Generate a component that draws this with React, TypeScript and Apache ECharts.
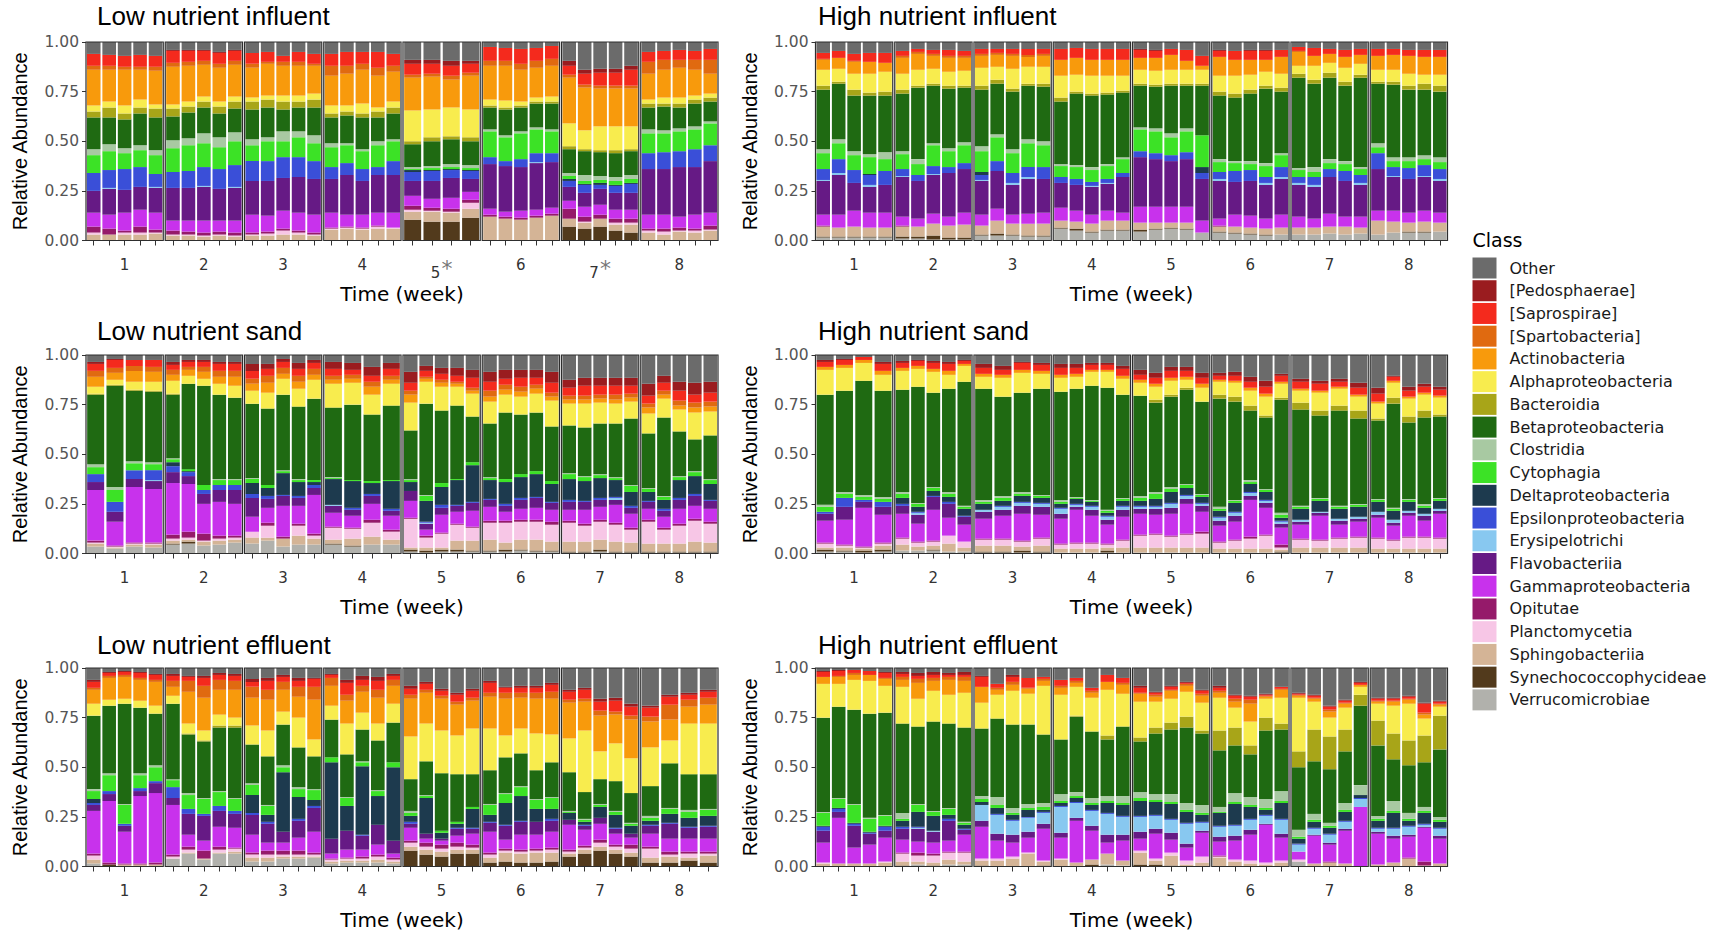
import React, { useEffect, useRef } from "react";
import * as echarts from "echarts";

// Classes in stacking order, bottom to top (legend shows them reversed)
const classes = [
  "Verrucomicrobiae", "Synechococcophycideae", "Sphingobacteriia", "Planctomycetia", "Opitutae",
  "Gammaproteobacteria", "Flavobacteriia", "Erysipelotrichi", "Epsilonproteobacteria", "Deltaproteobacteria",
  "Cytophagia", "Clostridia", "Betaproteobacteria", "Bacteroidia", "Alphaproteobacteria",
  "Actinobacteria", "[Spartobacteria]", "[Saprospirae]", "[Pedosphaerae]", "Other",
];
const classColors = [
  "#B1B1AC", "#523A1C", "#D4B496", "#F7C6E6", "#951A6A",
  "#C832EC", "#661A85", "#88C8F0", "#3A4FD8", "#1D3A4E",
  "#3CE226", "#A8C9A2", "#1F6A12", "#A8A518", "#F8EC4E",
  "#F89A0C", "#E06A10", "#F42A1D", "#9A1C1F", "#6B6B6B",
];

const weekLabels = ["1", "2", "3", "4", "5", "6", "7", "8"];
const lowInfluentWeekLabels = ["1", "2", "3", "4", "5*", "6", "7*", "8"];
const yTicks = [0, 0.25, 0.5, 0.75, 1];

// Each panel: 8 weeks; each week: samples; each sample: abundances in stacking order
const lowInfluent = [
  [
    [0,0,.03,.01,.03,.07,.11,0,.09,0,.09,.03,.16,.03,.03,.18,.02,.06,0,.06],
    [0,0,.03,0,.03,.07,.13,.005,.09,0,.095,.035,.135,.05,.03,.16,.02,.055,0,.065],
    [0,0,.03,.01,.01,.09,.115,0,.105,0,.08,.025,.145,.03,.04,.18,.015,.055,0,.07],
    [0,0,.03,.01,.03,.085,.115,0,.10,0,.085,.025,.16,.03,.04,.15,.015,.06,0,.065],
    [0,0,.035,.005,.015,.085,.125,.005,.065,0,.095,.025,.165,.045,.02,.17,.02,.055,0,.07],
  ],
  [
    [0,0,.025,.005,.02,.05,.165,0,.08,0,.12,.04,.12,.04,.02,.19,.02,.06,.005,.04],
    [0,0,.025,.005,.015,.055,.165,0,.085,0,.13,.035,.13,.03,.025,.18,.02,.055,.005,.04],
    [0,0,.02,.005,.015,.06,.17,.005,.095,0,.12,.05,.13,.03,.025,.16,.02,.05,.005,.04],
    [0,0,.025,.005,.015,.055,.16,0,.10,0,.11,.05,.12,.035,.025,.17,.02,.055,.005,.05],
    [0,0,.02,.005,.015,.06,.165,.005,.11,0,.12,.045,.12,.035,.025,.16,.02,.05,.005,.04],
  ],
  [
    [0,0,.025,.005,.01,.09,.17,0,.10,0,.08,.03,.15,.04,.02,.15,.02,.055,0,.055],
    [0,0,.025,.01,.01,.08,.175,0,.10,0,.10,.02,.15,.04,.02,.16,.01,.05,0,.05],
    [0,0,.03,.02,.01,.09,.165,0,.105,0,.08,.05,.11,.04,.03,.15,.02,.03,0,.07],
    [0,0,.03,.01,.01,.09,.18,0,.10,0,.10,.03,.12,.03,.03,.15,.02,.05,0,.05],
    [0,0,.025,.005,.01,.09,.18,0,.09,0,.09,.04,.14,.04,.03,.14,.01,.05,0,.06],
  ],
  [
    [0,0,.055,.005,.005,.075,.17,0,.06,0,.10,.02,.13,.02,.04,.15,.05,.06,0,.06],
    [0,0,.06,.005,.005,.06,.20,0,.06,0,.09,.01,.14,.02,.03,.16,.04,.07,0,.05],
    [0,0,.055,.005,.005,.065,.17,0,.06,0,.09,.01,.16,.02,.05,.17,.03,.06,0,.05],
    [0,0,.06,.01,.005,.065,.19,0,.04,0,.11,.02,.12,.03,.02,.16,.04,.08,0,.05],
    [0,0,.06,.005,0,.075,.19,0,.07,0,.10,.01,.13,.03,.03,.15,.03,.06,0,.06],
  ],
  [
    [0,.105,.04,.01,.02,.05,.075,0,.045,.01,.005,.01,.115,.015,.155,.165,.015,.055,.02,.09],
    [0,.095,.05,.005,.015,.045,.09,0,.05,.005,.01,.01,.125,.02,.14,.165,.015,.05,.02,.09],
    [0,.095,.045,.005,.015,.055,.10,0,.04,.005,.01,.015,.125,.015,.145,.14,.02,.05,.025,.095],
    [0,.115,.045,.03,.015,.04,.065,0,.04,.005,.01,.015,.12,.02,.14,.17,.015,.045,.015,.095],
  ],
  [
    [0,0,.12,0,.01,.03,.225,0,.035,0,.13,.01,.11,.01,.03,.17,.025,.07,0,.025],
    [0,0,.11,0,.01,.025,.23,0,.025,0,.12,.01,.13,.01,.035,.175,.025,.065,0,.03],
    [0,0,.105,0,.01,.035,.22,0,.04,0,.13,.01,.12,.01,.02,.16,.03,.075,0,.035],
    [0,0,.115,0,.01,.03,.235,.005,.045,0,.12,.01,.12,.01,.02,.15,.035,.065,0,.03],
    [0,0,.125,0,.01,.03,.23,0,.045,0,.11,.01,.13,.01,.025,.155,.035,.065,0,.02],
  ],
  [
    [0,.07,.04,0,.05,.04,.07,0,.03,.01,.015,.015,.12,.015,.115,.23,.015,.045,.025,.095],
    [0,.06,.03,.005,.025,.05,.07,0,.04,.005,.015,.03,.12,.01,.095,.215,.015,.055,.02,.14],
    [0,.07,.04,0,.02,.05,.08,0,.02,.01,.015,.02,.12,.01,.12,.19,.015,.065,.02,.135],
    [0,.05,.03,.01,.02,.045,.085,0,.035,.005,.02,.02,.12,.015,.12,.19,.015,.065,.02,.135],
    [0,.04,.04,.01,.02,.045,.085,0,.045,.005,.02,.02,.12,.01,.115,.19,.015,.08,.02,.12],
  ],
  [
    [0,0,.04,.01,.01,.07,.23,0,.08,0,.10,.02,.11,.02,.02,.13,.06,.05,0,.05],
    [0,0,.03,.015,.015,.07,.23,0,.085,0,.095,.015,.12,.015,.03,.14,.05,.045,0,.045],
    [0,0,.045,.005,.015,.055,.25,0,.08,0,.10,.015,.105,.02,.03,.15,.04,.05,0,.04],
    [0,0,.04,.01,.01,.07,.24,0,.09,0,.10,.015,.115,.02,.02,.13,.05,.045,0,.045],
    [0,0,.05,.005,.02,.065,.26,0,.08,0,.11,.01,.10,.02,.02,.10,.07,.055,0,.035],
  ],
];

const highInfluent = [
  [
    [.015,.005,.05,0,.005,.055,.17,.005,.055,0,.08,.02,.30,.02,.08,.05,.005,.03,0,.055],
    [.015,.005,.045,0,0,.065,.20,.01,.07,0,.08,.02,.28,.01,.065,.055,0,.035,0,.045],
    [.015,.005,.05,0,0,.08,.14,0,.065,0,.075,.02,.28,.03,.08,.06,.005,.035,0,.06],
    [.015,.005,.045,0,0,.075,.13,.01,.05,.005,.085,.015,.295,.015,.095,.06,0,.045,0,.055],
    [.015,.005,.045,0,0,.075,.14,0,.07,0,.06,.035,.285,.02,.10,.045,0,.05,0,.055],
  ],
  [
    [.01,.01,.05,0,.005,.045,.20,.005,.035,0,.075,.015,.29,.02,.08,.08,.01,.025,0,.045],
    [.01,.01,.05,0,0,.04,.19,0,.03,0,.055,.025,.36,.01,.08,.08,.01,.015,0,.035],
    [.005,.02,.06,0,0,.05,.195,.005,.04,0,.105,.01,.29,.01,.075,.065,.01,.02,0,.04],
    [.005,.01,.06,0,0,.045,.22,0,.03,0,.08,.015,.30,.015,.07,.07,.01,.03,0,.04],
    [.005,.01,.065,0,0,.06,.22,0,.03,0,.09,.015,.275,.01,.075,.065,.01,.025,0,.045],
  ],
  [
    [.025,.005,.045,0,0,.055,.17,.005,.025,.015,.105,.025,.285,.02,.09,.06,.01,.025,0,.035],
    [.025,.01,.065,0,0,.06,.19,0,.05,0,.12,.015,.255,.02,.065,.06,.01,.02,0,.035],
    [.025,.005,.055,0,0,.045,.15,.01,.05,0,.10,.02,.29,.015,.10,.065,.01,.025,0,.035],
    [.02,.005,.06,0,0,.05,.175,.01,.05,0,.12,.02,.27,.01,.085,.05,.01,.03,0,.035],
    [.02,.005,.06,0,0,.055,.17,0,.06,0,.11,.02,.275,.015,.085,.055,.01,.025,0,.035],
  ],
  [
    [.06,.005,.035,0,0,.065,.125,0,.03,0,.055,.01,.315,.02,.11,.08,0,.055,0,.035],
    [.05,.01,.035,0,0,.055,.13,0,.03,0,.06,.01,.36,.01,.085,.085,0,.05,0,.03],
    [.04,.005,.04,0,0,.045,.14,.005,.02,0,.06,.015,.36,.01,.09,.08,0,.055,0,.035],
    [.05,.005,.045,0,0,.05,.135,.005,.02,0,.065,.01,.35,.01,.085,.08,0,.055,0,.035],
    [.05,.005,.045,0,0,.04,.18,0,.02,0,.07,.01,.325,.01,.075,.08,0,.055,0,.035],
  ],
  [
    [.045,.01,.035,0,0,.08,.25,0,.03,0,.11,.01,.21,.01,.07,.06,0,.04,.005,.035],
    [.055,.005,.03,0,0,.08,.24,0,.03,0,.11,.015,.21,.01,.07,.065,0,.035,.005,.04],
    [.06,.005,.025,0,0,.08,.23,0,.03,0,.09,.02,.24,.01,.07,.075,0,.03,0,.035],
    [.055,.005,.03,0,0,.08,.24,0,.035,0,.105,.015,.215,.01,.07,.045,0,.055,0,.04],
    [.04,0,0,0,0,.06,.21,0,.03,.03,.16,0,.25,.01,.07,.02,0,.05,0,.07],
  ],
  [
    [.04,.005,.025,0,.005,.035,.19,.01,.035,0,.05,.015,.32,.02,.08,.095,0,.03,.005,.04],
    [.035,.005,.03,0,0,.06,.165,0,.055,0,.04,.01,.32,.02,.09,.08,0,.045,0,.045],
    [.03,.005,.03,0,0,.06,.175,0,.055,0,.03,.015,.34,.02,.075,.075,0,.045,.005,.04],
    [.025,.005,.03,0,0,.05,.17,.01,.03,0,.055,.015,.375,.015,.07,.06,0,.045,.005,.04],
    [.03,0,.035,0,0,.065,.18,.01,.05,0,.06,.01,.31,.02,.07,.085,0,.035,0,.04],
  ],
  [
    [.03,0,.035,0,0,.055,.16,.01,.03,0,.035,.01,.455,.02,.04,.07,.005,.02,0,.025],
    [.03,0,.035,0,0,.045,.16,.01,.04,0,.025,.025,.42,.02,.07,.05,0,.04,0,.03],
    [.035,0,.035,0,0,.065,.185,0,.04,0,.03,.02,.41,.025,.05,.045,0,.025,0,.035],
    [.03,0,.04,0,0,.05,.18,0,.05,0,.035,.015,.38,.02,.07,.055,0,.035,0,.04],
    [.035,0,.03,0,0,.055,.16,.01,.04,0,.03,.01,.45,.015,.055,.045,0,.03,0,.035],
  ],
  [
    [.03,0,.07,0,0,.05,.21,0,.08,0,.03,.02,.30,.01,.06,.07,0,.035,0,.035],
    [.04,0,.055,0,0,.055,.17,.005,.045,0,.03,.02,.365,.015,.06,.075,0,.03,0,.035],
    [.04,.005,.045,0,0,.05,.17,0,.055,0,.035,.02,.34,.02,.06,.09,0,.03,0,.04],
    [.04,.005,.05,0,0,.055,.17,.005,.055,0,.03,.02,.33,.03,.045,.09,0,.035,0,.04],
    [.045,0,.045,0,0,.05,.16,.01,.05,0,.035,.025,.33,.03,.055,.09,0,.035,0,.04],
  ],
];

const lowSand = [
  [
    [.035,0,.015,.005,.01,.255,.04,0,.04,0,.035,.015,.35,.005,.035,.05,.03,.035,.01,.035],
    [.025,0,.005,.005,.005,.12,.05,0,.05,0,.06,.015,.51,.005,.025,.035,.025,.04,.005,.02],
    [.035,0,.01,.005,.005,.28,.04,0,.045,0,.035,.01,.355,.005,.04,.055,.025,.03,0,.025],
    [.03,0,.015,.005,.005,.27,.04,.005,.05,0,.03,.01,.355,.005,.045,.05,.025,.035,0,.025],
  ],
  [
    [.045,.005,.015,.01,.02,.26,.055,0,.03,.02,.015,.005,.32,.005,.065,.03,.025,.025,.015,.035],
    [.05,.01,.01,.01,.03,.24,.04,0,.02,.005,.01,0,.43,0,.04,.03,.015,.025,.01,.025],
    [.04,0,.02,.005,.035,.15,.05,0,.02,0,.025,0,.50,0,.035,.035,.025,.025,.01,.025],
    [.045,0,.02,.01,.015,.17,.06,0,.025,0,.025,.005,.425,0,.055,.035,.03,.035,.01,.035],
    [.055,0,.015,.01,.01,.16,.07,0,.025,0,.025,.005,.41,0,.06,.045,.03,.035,.01,.035],
  ],
  [
    [.05,0,.03,.03,0,.075,.095,0,.02,.055,.02,.005,.375,0,.065,.035,.025,.04,.035,.045],
    [.065,0,.015,.06,.015,.075,.045,0,.015,.04,.015,0,.385,0,.08,.05,.035,.035,.025,.045],
    [.035,0,.04,0,.01,.155,.05,0,.005,.11,.01,.005,.38,0,.08,.025,.03,.03,.015,.02],
    [.045,0,.045,.05,.01,.09,.04,0,.01,.07,.01,.005,.365,0,.09,.035,.03,.035,.03,.04],
    [.045,0,.03,.015,.01,.195,.035,0,.015,.015,.01,0,.41,0,.095,.025,.03,.03,.015,.025],
  ],
  [
    [.045,.005,.02,.06,.005,.07,.035,.005,0,.13,.005,.005,.35,0,.12,.02,.02,.035,.035,.035],
    [.035,.005,.035,.05,.005,.06,.03,0,.01,.135,.005,0,.38,0,.11,.02,.02,.025,.035,.04],
    [.045,0,.04,.07,.015,.08,.04,0,.01,.055,.01,0,.335,0,.10,.04,.025,.03,.045,.06],
    [.045,0,.025,.04,.01,.07,.025,0,.01,.14,.005,0,.375,0,.11,.02,.02,.035,.03,.04],
  ],
  [
    [.01,.01,.01,.145,.005,.085,.05,0,0,.045,.01,.005,.245,0,.14,.04,.02,.04,.055,.085],
    [.005,.01,.015,.05,.01,.03,.03,.005,.005,.105,.025,.005,.46,0,.11,.015,.01,.03,.025,.055],
    [.01,.01,.01,.07,.005,.09,.035,0,.015,.09,.02,0,.365,0,.12,.02,.015,.03,.03,.065],
    [.01,.01,.045,.08,.005,.06,.03,0,.005,.125,.005,0,.37,0,.095,.015,.01,.03,.04,.065],
    [.01,.005,.05,.065,.005,.08,.04,0,.005,.185,.015,0,.23,0,.115,.015,.015,.05,.04,.075],
  ],
  [
    [.01,.005,.055,.085,.01,.07,.035,0,.005,.095,.01,.005,.27,0,.11,.025,.03,.045,.05,.085],
    [.01,.01,.035,.10,.01,.045,.03,0,.01,.11,.015,0,.335,0,.09,.025,.025,.03,.045,.075],
    [.015,.005,.05,.09,.01,.055,.045,0,.01,.105,.015,0,.30,0,.09,.025,.025,.045,.04,.075],
    [.01,.005,.055,.09,.01,.06,.05,0,.005,.115,.015,0,.295,0,.095,.025,.02,.035,.04,.075],
    [.01,.005,.045,.085,.015,.06,.035,0,.005,.09,.015,0,.275,0,.13,.02,.02,.05,.055,.085],
  ],
  [
    [.005,.005,.05,.095,.01,.055,.04,0,.01,.105,.025,.005,.24,0,.11,.02,.02,.04,.04,.125],
    [.005,.005,.05,.08,.01,.07,.04,0,.005,.10,.02,.005,.245,0,.12,.02,.02,.05,.04,.115],
    [.01,.01,.05,.09,.01,.065,.035,0,.01,.10,.015,.005,.255,0,.105,.02,.02,.045,.04,.115],
    [.005,.005,.05,.085,.01,.09,.025,.01,.005,.085,.01,.005,.27,0,.10,.02,.025,.045,.04,.115],
    [.005,.005,.045,.065,.01,.07,.03,0,.01,.07,.03,.005,.335,0,.085,.02,.02,.04,.04,.115],
  ],
  [
    [.005,.005,.04,.11,.01,.055,.035,0,.005,.045,.015,.005,.275,0,.10,.03,.02,.04,.06,.145],
    [.005,.005,.04,.07,.01,.055,.03,0,.01,.045,.015,.005,.395,0,.095,.02,.02,.04,.035,.105],
    [.005,.005,.04,.09,.01,.075,.045,0,.01,.09,.015,.005,.225,0,.11,.02,.025,.05,.045,.135],
    [.005,.005,.05,.105,.01,.065,.05,0,.01,.09,.02,.005,.16,0,.135,.025,.025,.04,.06,.14],
    [.005,.005,.045,.095,.01,.065,.04,0,.005,.08,.02,.005,.22,0,.12,.025,.025,.045,.055,.135],
  ],
];

const highSand = [
  [
    [.01,.01,.01,.02,.005,.11,.035,0,.01,0,.025,.01,.555,0,.125,.015,0,.025,.01,.025],
    [.01,.005,.015,.01,.005,.125,.065,0,.045,0,.02,.01,.51,0,.115,.015,0,.025,.005,.02],
    [.005,.01,.01,.005,.005,.195,.03,0,.01,0,.015,.01,.575,0,.09,.015,0,.015,0,.01],
    [.01,.01,.02,.01,.005,.14,.04,0,.025,0,.015,.01,.535,0,.08,.02,0,.035,.01,.035],
  ],
  [
    [.015,0,.03,.03,.005,.12,.04,0,.01,.03,.02,.01,.515,0,.095,.015,0,.025,.01,.03],
    [.015,0,.02,.02,.005,.09,.045,.01,.005,.025,.015,.005,.585,0,.09,.015,0,.025,.005,.025],
    [.015,.005,.02,.02,.005,.155,.065,0,.005,.025,.015,.005,.475,0,.105,.015,0,.03,.01,.03],
    [.01,0,.04,.04,0,.09,.07,0,.01,.025,.015,.01,.52,0,.07,.02,0,.035,.01,.035],
    [.01,0,.02,.03,0,.085,.04,0,.005,.035,.01,.005,.625,0,.08,.01,0,.015,.005,.025],
  ],
  [
    [.005,.005,.03,.03,.005,.10,.035,.01,0,.03,.01,.01,.56,0,.06,.015,0,.03,.02,.045],
    [.005,.005,.03,.03,.005,.115,.03,.015,.005,.025,.015,.01,.50,0,.095,.015,0,.025,.02,.055],
    [.005,.01,.02,.025,.005,.135,.04,.015,.005,.03,.01,.01,.50,0,.10,.015,0,.035,.005,.035],
    [.005,.005,.03,.035,.005,.115,.04,.015,.005,.025,.01,.005,.535,0,.075,.015,0,.03,.01,.04],
  ],
  [
    [.005,0,.02,.02,.005,.125,.025,.025,.005,.02,.01,.01,.545,0,.07,.015,0,.035,.02,.045],
    [.005,0,.02,.025,.005,.165,.015,.01,.005,.025,.005,.005,.545,0,.06,.015,0,.03,.02,.045],
    [.005,0,.02,.025,.005,.135,.03,.015,.005,.02,.005,.005,.575,0,.07,.01,0,.025,.01,.04],
    [.005,.01,.015,.015,.005,.095,.025,.015,.005,.015,.01,.005,.615,0,.08,.01,0,.025,.01,.04],
    [.005,0,.025,.035,.005,.115,.035,.015,.005,.025,.01,.005,.52,0,.08,.015,0,.035,.015,.055],
  ],
  [
    [.005,0,.025,.06,.005,.105,.025,.01,.005,.025,.015,.01,.505,0,.065,.015,0,.025,.025,.075],
    [.005,0,.025,.065,.005,.095,.03,.01,.005,.035,.025,.01,.45,.015,.065,.015,0,.03,.025,.09],
    [.005,0,.025,.055,.005,.11,.03,.02,.005,.055,.015,.01,.455,.01,.07,.015,0,.035,.02,.06],
    [.005,0,.025,.065,.005,.15,.025,.015,.005,.035,.015,.005,.475,.01,.04,.015,0,.03,.02,.06],
    [.005,0,.025,.07,.01,.10,.03,.01,.005,.03,.01,.005,.465,0,.07,.02,0,.03,.025,.09],
  ],
  [
    [.005,0,.02,.03,.005,.08,.025,.015,.005,.03,.01,.01,.545,.02,.065,.01,0,.02,.015,.09],
    [.005,0,.02,.04,.005,.09,.03,.015,.005,.045,.01,.005,.495,.025,.07,.01,0,.025,.02,.085],
    [.005,0,.02,.05,.01,.185,.02,.015,.005,.04,.01,.01,.35,.025,.075,.015,0,.03,.025,.11],
    [.005,0,.02,.065,.005,.135,.025,.01,.005,.04,.01,.005,.36,.01,.095,.015,0,.035,.03,.13],
    [.005,.005,.01,.01,.015,.085,.02,.01,.005,.015,.015,.01,.57,.01,.07,.01,0,.03,.01,.095],
  ],
  [
    [.005,0,.025,.04,.005,.07,.015,.01,0,.055,.01,.005,.485,.035,.06,.01,0,.035,.015,.12],
    [.005,0,.025,.035,.005,.12,.015,.005,0,.055,.01,.005,.415,.025,.09,.01,0,.035,.015,.13],
    [.005,0,.025,.045,.005,.065,.02,.01,0,.05,.01,.005,.48,.025,.085,.01,0,.025,.015,.12],
    [.005,0,.025,.05,.005,.075,.015,.01,0,.05,.01,.005,.43,.04,.07,.01,0,.035,.025,.14],
  ],
  [
    [.005,0,.02,.05,.005,.10,.015,.015,0,.05,.01,.005,.395,.01,.075,.01,0,.04,.03,.165],
    [.005,0,.02,.04,.005,.07,.015,.015,0,.045,.01,.005,.525,.03,.075,.01,0,.02,.005,.105],
    [.005,0,.02,.055,.005,.105,.015,.01,0,.045,.01,.005,.385,.03,.09,.01,0,.03,.02,.16],
    [.005,0,.02,.055,.005,.08,.025,.01,0,.03,.01,.01,.435,.035,.08,.01,0,.03,.015,.145],
    [.005,0,.02,.05,.005,.12,.015,.01,0,.04,.01,.005,.41,.01,.085,.01,0,.03,.015,.16],
  ],
];

const lowEffluent = [
  [
    [.015,0,.02,.02,.01,.215,.03,0,.01,.02,.04,.01,.37,0,.06,.07,.01,.03,.01,.06],
    [0,.01,0,0,.01,.31,.035,0,.015,0,.08,.01,.34,0,.03,.11,.01,.015,.005,.02],
    [0,0,.01,0,.005,.16,.03,0,.01,0,.095,.005,.505,0,.025,.11,.01,.015,.005,.015],
    [0,0,.01,0,.005,.34,.025,0,.015,0,.065,.01,.33,0,.035,.105,.01,.025,.005,.02],
    [0,0,.01,0,.01,.35,.05,0,.01,0,.07,.01,.26,0,.04,.12,.01,.025,.005,.03],
  ],
  [
    [.04,0,0,.01,.01,.25,.035,0,.055,0,.035,.005,.38,0,.04,.045,.03,.025,.01,.03],
    [.065,0,.005,.015,.015,.06,.105,0,.025,0,.07,.01,.295,.005,.05,.16,.055,.02,.005,.04],
    [.035,0,.005,0,.04,.05,.125,0,.01,0,.075,.005,.285,.005,.05,.165,.06,.04,.01,.04],
    [.065,0,.005,.015,.015,.10,.08,0,.025,0,.07,.005,.32,.01,.055,.125,.05,.025,.01,.025],
    [.065,0,.01,.015,.005,.10,.07,0,.015,0,.06,.005,.355,.01,.04,.14,.045,.025,.01,.03],
  ],
  [
    [.025,0,.02,.015,.01,.09,.10,0,.01,.09,.05,.01,.195,0,.095,.14,.055,.025,.015,.055],
    [.025,0,.02,.015,.02,.04,.095,0,.01,.035,.045,.005,.245,0,.13,.155,.05,.045,.015,.05],
    [.04,0,.01,.01,.02,.04,.055,0,0,.30,.025,.01,.205,0,.065,.11,.04,.025,.01,.035],
    [.04,0,.01,.01,.02,.065,.085,0,.01,.11,.04,.01,.20,0,.15,.105,.05,.03,.015,.05],
    [.045,0,.005,.01,.01,.105,.12,0,.01,.03,.05,.005,.165,0,.085,.20,.065,.04,.005,.05],
  ],
  [
    [.015,0,.01,.01,.005,.025,.075,0,0,.385,.025,0,.19,0,.07,.10,.04,.015,.005,.03],
    [.02,0,.01,.01,.005,.04,.095,0,0,.125,.04,.005,.215,0,.155,.115,.03,.06,.015,.06],
    [.02,0,.01,.01,.01,.035,.07,0,.005,.345,.02,.005,.16,0,.085,.105,.03,.03,.02,.04],
    [.02,0,.015,.015,.01,.05,.10,0,0,.145,.025,.005,.25,0,.085,.13,.04,.045,.02,.045],
    [.015,0,.01,.01,.01,.02,.065,0,0,.37,.025,0,.20,0,.095,.09,.03,.02,.01,.03],
  ],
  [
    [0,.08,.02,.02,.01,.065,.02,0,.01,.03,.015,.01,.16,0,.215,.19,.02,.03,.015,.09],
    [0,.06,.025,.015,.02,.02,.025,0,0,.18,.01,.005,.17,0,.19,.155,.015,.03,.01,.07],
    [0,.05,.025,.015,.02,.02,.01,0,0,.03,.01,0,.29,0,.215,.16,.015,.025,.01,.105],
    [0,.065,.02,.015,.02,.035,.035,0,.005,.02,.01,0,.24,0,.195,.155,.015,.035,.01,.125],
    [0,.065,.02,.01,.015,.055,.025,0,.005,.095,.01,0,.165,0,.23,.14,.015,.035,.01,.105],
  ],
  [
    [0,.02,.025,.015,.01,.105,.045,0,.005,.035,.05,.005,.17,0,.21,.16,.02,.05,.01,.065],
    [0,.025,.045,.01,.01,.045,.07,0,.005,.11,.045,.005,.18,0,.11,.185,.03,.025,.005,.095],
    [0,.02,.045,.01,.01,.075,.065,0,.005,.125,.045,.005,.165,0,.125,.155,.025,.025,.01,.09],
    [0,.02,.05,.01,.01,.07,.065,0,0,.065,.045,.005,.145,0,.185,.175,.03,.025,.01,.09],
    [0,.025,.045,.015,.01,.08,.055,0,.01,.05,.055,.005,.175,0,.14,.18,.035,.035,.01,.075],
  ],
  [
    [0,.05,.015,.01,.01,.125,.025,0,0,.035,.005,.005,.195,0,.17,.18,.015,.04,.01,.11],
    [0,.065,.02,.01,.01,.08,.02,0,.005,.015,.01,.005,.135,0,.31,.145,.015,.045,.01,.10],
    [0,.08,.02,.02,.015,.08,.03,0,0,.055,.01,.005,.125,0,.14,.18,.025,.045,.015,.155],
    [0,.065,.02,.015,.01,.055,.025,0,.005,.065,.015,.005,.15,0,.19,.145,.015,.055,.015,.15],
    [0,.05,.02,.02,.02,.035,.02,0,0,.04,.01,.005,.15,0,.175,.195,.02,.045,.015,.18],
  ],
  [
    [0,.02,.025,.045,.01,.065,.04,0,.005,.02,.015,.01,.15,0,.195,.13,.025,.045,.01,.19],
    [0,.02,.03,.01,.015,.065,.075,0,.005,.045,.025,.005,.225,0,.115,.105,.075,.04,.01,.135],
    [0,.03,.015,.02,.01,.065,.055,0,.005,.045,.03,.01,.18,0,.255,.085,.035,.025,.01,.125],
    [0,.02,.035,.01,.01,.065,.06,0,.005,.05,.03,.005,.175,0,.255,.095,.035,.03,.01,.11],
  ],
];

const highEffluent = [
  [
    [0,0,.015,.005,0,.10,.06,0,.02,.005,.065,.005,.475,0,.17,.035,0,.025,.005,.015],
    [0,0,.015,0,0,.23,.03,0,.015,.005,.045,.005,.46,0,.115,.035,.005,.025,.005,.01],
    [0,0,.015,0,0,.08,.11,0,.01,.005,.09,.005,.475,0,.15,.025,.01,.015,0,.01],
    [0,0,.015,0,0,.095,.055,0,.005,.005,.065,.005,.525,0,.165,.03,0,.02,0,.015],
    [0,0,.02,.005,0,.12,.035,0,.02,.005,.05,.005,.515,0,.135,.035,.005,.025,.005,.02],
  ],
  [
    [0,.005,.02,.04,.005,.065,.055,0,.01,.03,.01,.03,.45,0,.185,.035,.015,.015,.01,.02],
    [.01,0,.015,.03,.015,.055,.065,.005,.005,.075,.035,.005,.39,0,.14,.08,.02,.015,.015,.025],
    [0,.005,.015,.035,.01,.055,.055,.005,0,.075,.02,.005,.45,0,.155,.05,.015,.015,.015,.02],
    [.01,0,.025,.035,.005,.055,.10,0,.01,.02,.03,.005,.425,0,.145,.075,.015,.01,.01,.025],
    [.01,0,.015,.045,.005,.085,.025,0,.005,.02,.01,.005,.475,0,.175,.06,.02,.01,.015,.02],
  ],
  [
    [0,.005,.025,.01,0,.16,.03,.08,0,.015,.015,.015,.34,0,.13,.08,0,.05,.005,.04],
    [0,0,.03,.01,0,.09,.035,.095,.005,.03,.015,.04,.395,0,.12,.025,.01,.02,0,.08],
    [0,0,.04,.01,0,.07,.04,.07,.005,.025,.01,.025,.42,0,.17,.03,.015,.025,.01,.035],
    [0,0,.065,.005,0,.075,.03,.07,.005,.035,.01,.02,.40,0,.155,.025,.005,.05,0,.05],
    [0,.005,.02,.005,0,.16,.025,.055,.005,.01,.015,.02,.345,0,.245,.025,.01,.01,0,.045],
  ],
  [
    [0,0,.035,.005,0,.105,.025,.13,.005,.015,.01,.035,.275,0,.225,.035,.01,.03,0,.06],
    [0,0,.02,0,0,.21,.015,.075,.005,.02,.01,.02,.38,.005,.145,.02,.01,.015,0,.05],
    [0,.01,.025,0,0,.145,.025,.075,.005,.025,.01,.025,.335,0,.17,.025,.01,.015,0,.10],
    [.01,0,.055,0,0,.055,.04,.105,.005,.05,.01,.025,.285,.02,.23,.04,0,.035,0,.035],
    [.005,0,.025,0,0,.10,.03,.09,.005,.055,.01,.035,.35,0,.165,.045,.01,.025,0,.05],
  ],
  [
    [0,.01,.06,.01,0,.06,.035,.075,.005,.075,.015,.03,.255,.02,.18,.04,.005,.025,.01,.09],
    [0,.01,.02,.01,0,.125,.025,.065,.005,.065,.01,.03,.305,.03,.13,.025,.01,.01,.005,.12],
    [0,.005,.05,.015,0,.065,.035,.065,.005,.075,.01,.04,.325,.035,.12,.04,.005,.015,.005,.09],
    [0,0,.01,.02,0,.065,.02,.10,.005,.055,.01,.035,.38,.055,.125,.03,.01,.005,.005,.07],
    [0,0,.02,.03,0,.12,.01,.04,.005,.035,.01,.04,.36,.015,.14,.035,.01,.015,.005,.11],
  ],
  [
    [0,0,.045,.005,.005,.07,.025,.05,.005,.065,.005,.025,.285,.10,.165,.025,.01,.015,.01,.09],
    [0,0,.025,.01,0,.095,.025,.05,.005,.105,.01,.045,.24,.09,.10,.03,.015,.015,.005,.135],
    [0,0,.015,.015,0,.13,.025,.05,.005,.06,.01,.04,.215,.045,.12,.09,.02,.015,.005,.14],
    [0,0,.01,.01,0,.19,.005,.04,.005,.025,.01,.045,.345,.065,.095,.01,.005,.005,.005,.13],
    [0,0,.02,.01,0,.115,.02,.07,.005,.08,.01,.05,.31,.03,.13,.04,.005,.01,0,.095],
  ],
  [
    [.025,0,0,.01,0,.04,0,.035,.005,.025,.01,.035,.315,.08,.27,.01,.005,.005,.005,.125],
    [0,0,.015,0,0,.14,.005,.03,.005,.03,.01,.03,.265,.16,.14,.015,.005,.01,.005,.135],
    [0,0,.02,0,.005,.085,.01,.04,.005,.03,.01,.015,.27,.165,.095,.03,.01,.015,.005,.19],
    [0,0,.015,0,0,.165,.01,.035,.005,.045,.01,.035,.26,.11,.11,.02,.005,.01,.005,.16],
    [0,0,0,0,0,.30,0,.04,.005,.015,0,.05,.40,.055,.04,.01,0,.01,.005,.07],
  ],
  [
    [0,0,.01,0,0,.155,.01,.015,.005,.035,.01,.015,.355,.125,.085,.01,.005,.01,.005,.15],
    [0,0,.02,0,0,.12,.015,.035,.005,.075,.01,.05,.21,.13,.14,.02,.005,.01,.005,.15],
    [0,0,.04,0,.005,.105,.01,.04,.005,.025,.01,.03,.24,.125,.185,.02,.005,.01,.005,.14],
    [0,0,.005,0,.02,.17,.005,.01,.005,.055,.01,.02,.225,.135,.085,.02,.01,.045,.005,.175],
    [0,0,.015,0,0,.125,.015,.035,.005,.03,.01,.015,.34,.17,.045,.01,.005,.01,.005,.165],
  ],
];

const panels = [
  { title: "Low nutrient influent", data: lowInfluent, labels: lowInfluentWeekLabels, col: 0, row: 0 },
  { title: "High nutrient influent", data: highInfluent, labels: weekLabels, col: 1, row: 0 },
  { title: "Low nutrient sand", data: lowSand, labels: weekLabels, col: 0, row: 1 },
  { title: "High nutrient sand", data: highSand, labels: weekLabels, col: 1, row: 1 },
  { title: "Low nutrient effluent", data: lowEffluent, labels: weekLabels, col: 0, row: 2 },
  { title: "High nutrient effluent", data: highEffluent, labels: weekLabels, col: 1, row: 2 },
];

// Layout (pixels)
const PX = [86, 815.5];
const PY = [42, 355, 668];
const PW = 632;
const PH = 198.5;
const FGAP = 2;
const FW = (PW - FGAP * 7) / 8;
const TITLE_X = [97, 818];
const TITLE_Y = [15.5, 330.5, 644.5];
const SANS = "'DejaVu Sans', 'Liberation Sans', sans-serif";
const ARIAL = "'Liberation Sans', Arial, sans-serif";

function buildOption() {
  const grid: any[] = [];
  const xAxis: any[] = [];
  const yAxis: any[] = [];
  const series: any[] = [];
  const graphic: any[] = [];

  panels.forEach((p) => {
    const x0 = PX[p.col];
    const y0 = PY[p.row];
    graphic.push({
      type: "text", x: TITLE_X[p.col], y: TITLE_Y[p.row], z: 20,
      style: { text: p.title, fontSize: 26, fontFamily: ARIAL, fill: "#000", align: "left", verticalAlign: "middle" },
    });
    graphic.push({
      type: "text", x: x0 + PW / 2, y: y0 + PH + 53, z: 20,
      style: { text: "Time (week)", fontSize: 20, fontFamily: SANS, fill: "#000", align: "center", verticalAlign: "middle" },
    });
    p.data.forEach((week, wi) => {
      const gi = grid.length;
      const gx = x0 + wi * (FW + FGAP);
      grid.push({ left: gx, top: y0, width: FW, height: PH, containLabel: false, show: false });
      graphic.push({
        type: "rect", z: 30, silent: true,
        shape: { x: gx, y: y0, width: FW, height: PH },
        style: { fill: "none", stroke: "#2e2e2e", lineWidth: 1.2 },
      });
      const lab = p.labels[wi];
      const isStar = lab.endsWith("*");
      xAxis.push({
        type: "category", gridIndex: gi,
        data: week.map((_, si) => `W${wi + 1}-S${si + 1}`),
        boundaryGap: true,
        axisLine: { show: false },
        axisTick: { show: true, alignWithLabel: true, interval: 0, length: 5, lineStyle: { color: "#333", width: 1 } },
        axisLabel: { show: false },
        splitLine: { show: false },
        name: isStar ? `{w|${lab.slice(0, -1)}}{s|*}` : `{w|${lab}}`,
        nameLocation: "middle",
        nameGap: 17,
        nameTextStyle: {
          rich: {
            w: { fontSize: 15, fontFamily: SANS, color: "#333" },
            s: { fontSize: 22, fontFamily: SANS, color: "#777", padding: [0, 0, 9, 1] },
          },
        },
      });
      const first = wi === 0;
      yAxis.push({
        type: "value", gridIndex: gi, min: 0, max: 1, interval: 0.25,
        splitLine: { show: false },
        axisLine: { show: false },
        axisTick: { show: first, length: 4, lineStyle: { color: "#333", width: 1 } },
        axisLabel: {
          show: first, margin: 7, fontSize: 15.5, fontFamily: SANS, color: "#555",
          formatter: (v: number) => (yTicks.includes(v) ? v.toFixed(2) : ""),
        },
        name: first ? "Relative Abundance" : "",
        nameLocation: "middle",
        nameGap: 56,
        nameTextStyle: { fontSize: 20, fontFamily: ARIAL, color: "#000" },
      });
      classes.forEach((cls, ci) => {
        series.push({
          type: "bar",
          name: cls,
          xAxisIndex: gi,
          yAxisIndex: gi,
          stack: `g${gi}`,
          barCategoryGap: "12%",
          data: week.map((s) => s[ci]),
          itemStyle: { color: classColors[ci], borderWidth: 0 },
          emphasis: { disabled: true },
          silent: true,
        });
      });
    });
  });

  graphic.push({
    type: "text", x: 1472.5, y: 239.5, z: 20,
    style: { text: "Class", fontSize: 19, fontFamily: SANS, fill: "#000", align: "left", verticalAlign: "middle" },
  });

  return {
    animation: false,
    backgroundColor: "#ffffff",
    grid, xAxis, yAxis, series, graphic,
    tooltip: { show: false },
    legend: {
      data: [...classes].reverse(),
      orient: "vertical",
      left: 1472.5,
      top: 257.5,
      padding: 0,
      itemWidth: 24,
      itemHeight: 21,
      itemGap: 1.73,
      icon: "rect",
      selectedMode: false,
      textStyle: { fontSize: 16, fontFamily: SANS, color: "#1a1a1a", padding: [0, 0, 0, 8] },
    },
  };
}

export default function App() {
  const ref = useRef<HTMLDivElement>(null);
  useEffect(() => {
    document.body.style.margin = "0";
    document.body.style.padding = "0";
    document.body.style.overflow = "hidden";
    if (!ref.current) return;
    const chart = echarts.init(ref.current, undefined, { renderer: "svg" });
    chart.setOption(buildOption() as any);
    return () => chart.dispose();
  }, []);
  return (
    <div
      ref={ref}
      style={{ position: "absolute", left: 0, top: 0, width: 1728, height: 933, background: "#fff" }}
    />
  );
}
